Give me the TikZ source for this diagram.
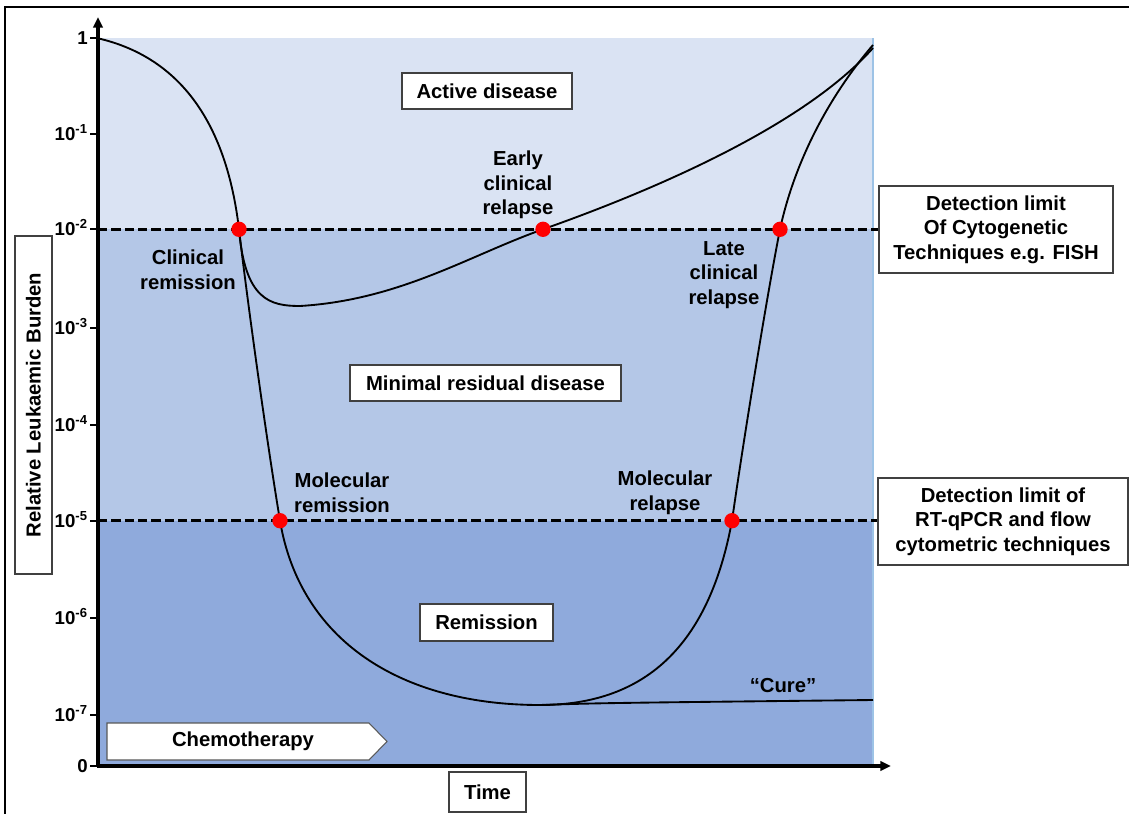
\documentclass[tikz,border=0pt]{standalone}
\usepackage{fontspec}
\setmainfont{Liberation Sans}
\usetikzlibrary{arrows.meta}
\definecolor{bgA}{HTML}{DAE3F3}
\definecolor{bgB}{HTML}{B4C7E7}
\definecolor{bgC}{HTML}{8FAADC}
\definecolor{edgeblue}{HTML}{9DC3E6}
\begin{document}
\begin{tikzpicture}[x=0.75pt,y=-0.75pt,
  lbl/.style={font=\fontsize{15.2}{18.5}\selectfont\bfseries, align=center, inner sep=0pt},
  boxed/.style={lbl, draw=black!75, line width=0.9pt, fill=white},
  ticklbl/.style={font=\fontsize{14}{16}\selectfont\bfseries, anchor=base east, inner sep=0pt},
  dot/.style={circle, fill=red, inner sep=0pt, minimum size=11.5pt},
  curve/.style={line width=1.4pt, black},
  limit/.style={line width=2pt, dash pattern=on 7pt off 3pt},
  axis/.style={line width=2.3pt, -{Triangle[length=8pt,width=7pt]}},
  tick/.style={line width=1.5pt}
]
\useasboundingbox (0,0) rectangle (1129,814);
% frame
\draw[line width=1.2pt] (5,814) -- (5,7) -- (1129,7);
% zones
\fill[bgA] (98,38) rectangle (873,229.3);
\fill[bgB] (98,229.3) rectangle (873,520.7);
\fill[bgC] (98,520.7) rectangle (873,766);
\draw[edgeblue, line width=0.8pt] (873,38) -- (873,766);
% key points
\coordinate (start) at (98,38.3);
\coordinate (d1) at (239,229.3);
\coordinate (d2) at (543,229.3);
\coordinate (d3) at (780,229.3);
\coordinate (d4) at (280,520.7);
\coordinate (d5) at (732,520.7);
\coordinate (emin) at (300,306);
\coordinate (bmin) at (540,705);
\coordinate (endA) at (873,48);
\coordinate (endB) at (873,45);
\coordinate (cureEnd) at (873,700);
% boxes on the right
\node[boxed, minimum width=175.5pt, minimum height=65.25pt] (lim1) at (996,229.5)
  {Detection limit\\Of Cytogenetic\\Techniques e.g. FISH};
\node[boxed, minimum width=187.5pt, minimum height=65.25pt] (lim2) at (1003,521.5)
  {Detection limit of\\RT-qPCR and flow\\cytometric techniques};
% detection limits
\coordinate (l1s) at (98,229.3);
\coordinate (l2s) at (98,520.7);
\draw[limit] (l1s) -- (l1s -| lim1.west);
\draw[limit] (l2s) -- (l2s -| lim2.west);
% curves
\draw[curve] (start) .. controls (170,55) and (225,110) .. (d1)
  .. controls (246,290) and (265,430) .. (d4)
  .. controls (300,640) and (400,705) .. (bmin)
  .. controls (650,705) and (710,640) .. (d5)
  .. controls (745,430) and (768,290) .. (d3)
  .. controls (795,160) and (830,95) .. (endB);
\draw[curve] (d1) .. controls (245,300) and (270,306) .. (emin)
  .. controls (400,300) and (470,255) .. (d2)
  .. controls (640,195) and (800,130) .. (endA);
\draw[curve] (bmin) .. controls (600,703) .. (cureEnd);
% dots
\node[dot] (p1) at (d1) {};
\node[dot] (p2) at (d2) {};
\node[dot] (p3) at (d3) {};
\node[dot] (p4) at (d4) {};
\node[dot] (p5) at (d5) {};
% axes
\coordinate (o) at (98,766);
\coordinate (ytop) at (98,17);
\coordinate (xend) at (891,766);
\draw[axis] (o) -- (ytop);
\draw[axis] ([xshift=-1.1pt]o) -- (xend);
% ticks
\foreach \yy/\lab/\nm in {38.3/1/t0, 134.3/10\textsuperscript{-1}/t1, 229.3/10\textsuperscript{-2}/t2,
  328.3/10\textsuperscript{-3}/t3, 425/10\textsuperscript{-4}/t4, 520.7/10\textsuperscript{-5}/t5,
  618.3/10\textsuperscript{-6}/t6, 715/10\textsuperscript{-7}/t7, 766/0/t8}{
  \draw[tick] (90,\yy) -- (98,\yy);
  \node[ticklbl] (\nm) at (88,\yy+6.5) {\lab};
}
% zone labels
\node[boxed, minimum width=127.5pt, minimum height=27pt] (active) at (487,91) {Active disease};
\node[boxed, minimum width=203.25pt, minimum height=27pt] (mrd) at (485.5,383) {Minimal residual disease};
\node[boxed, minimum width=99.75pt, minimum height=27.75pt] (rem) at (486.5,622.5) {Remission};
% event labels
\node[lbl] (clinrem) at (188,270) {Clinical\\remission};
\node[lbl] (early) at (518,185) {Early\\clinical\\relapse};
\node[lbl] (late) at (724,275) {Late\\clinical\\relapse};
\node[lbl] (molrem) at (342,493) {Molecular\\remission};
\node[lbl] (molrel) at (665,493) {Molecular\\relapse};
\node[lbl] (cure) at (783,686) {“Cure”};
% axis labels
\node[boxed, rotate=90, minimum width=253.5pt, minimum height=27.75pt] (ylab) at (33.5,405) {Relative Leukaemic Burden};
\node[boxed, line width=1.3pt, minimum width=57.75pt, minimum height=30pt] (time) at (487.5,792) {Time};
% chemotherapy arrow
\draw[draw=black!65, line width=0.8pt, fill=white] (107,723) -- (369,723) -- (387,741.5) -- (369,760) -- (107,760) -- cycle;
\node[lbl] (chemo) at (243,741.5) {Chemotherapy};
\end{tikzpicture}
\end{document}
